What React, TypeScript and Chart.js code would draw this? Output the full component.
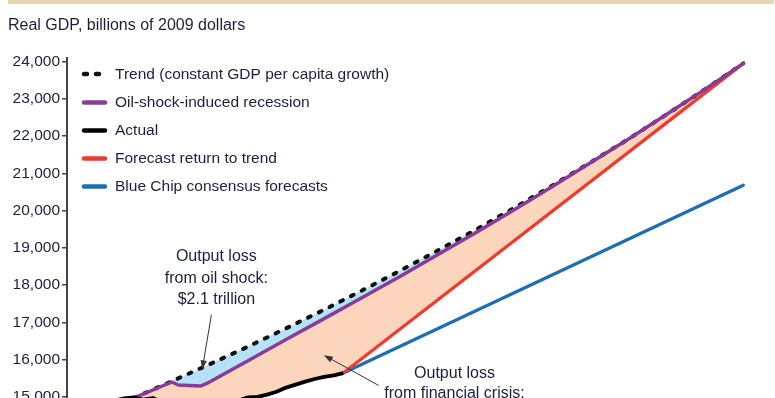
import React, { useEffect, useRef } from 'react';
import { Chart, registerables } from 'chart.js';

Chart.register(...registerables);

const TITLE = 'Real GDP, billions of 2009 dollars';

const legendLabels = [
  'Trend (constant GDP per capita growth)',
  'Oil-shock-induced recession',
  'Actual',
  'Forecast return to trend',
  'Blue Chip consensus forecasts',
];

// Y-axis tick values
const yTickValues = [12000, 13000, 14000, 15000, 16000, 17000, 18000, 19000, 20000, 21000, 22000, 23000, 24000];

// Trend (constant GDP per capita growth)
const trendYears = [2007.75, 2008.75, 2009.75, 2010.75, 2011.75, 2012.75, 2013.75, 2014.75, 2015.75, 2016.75, 2017.75, 2018.75, 2019.75, 2020.75, 2021.75, 2022.75, 2023.75];
const trendValues = [14970, 15420, 15880, 16350, 16840, 17340, 17860, 18390, 18940, 19500, 20080, 20680, 21300, 21930, 22590, 23260, 23950];

// Oil-shock-induced recession
const oilYears = [2007.75, 2008.75, 2008.92, 2009.5, 2009.67, 2010.75, 2011.75, 2012.75, 2013.75, 2014.75, 2015.75, 2016.75, 2017.75, 2018.75, 2019.75, 2020.75, 2021.75, 2022.75, 2023.75];
const oilValues = [14970, 15400, 15320, 15290, 15360, 15970, 16540, 17100, 17670, 18240, 18830, 19420, 20030, 20655, 21290, 21930, 22590, 23260, 23950];

// Actual
const actualYears = [2007.0, 2007.25, 2007.5, 2007.75, 2008.0, 2008.25, 2008.5, 2008.75, 2009.0, 2009.25, 2009.5, 2009.75, 2010.0, 2010.25, 2010.5, 2010.75, 2011.0, 2011.25, 2011.5, 2011.75, 2012.0, 2012.25, 2012.5, 2012.75, 2013.0, 2013.25];
const actualValues = [14830, 14900, 14960, 14990, 14930, 14970, 14850, 14600, 14380, 14350, 14380, 14520, 14600, 14780, 14900, 14990, 15000, 15060, 15140, 15250, 15330, 15410, 15480, 15540, 15580, 15640];

// Forecast return to trend
const forecastYears = [2013.25, 2023.75];
const forecastValues = [15640, 23950];

// Blue Chip consensus forecasts
const blueChipYears = [2013.25, 2023.75];
const blueChipValues = [15640, 20680];

// Annotations, anchored in data units
const noteOil = ['Output loss', 'from oil shock:', '$2.1 trillion'];
const noteOilAnchor = { x: 2009.92, y: [18752, 18182, 17613] };
const noteOilArrow = { from: [2009.79, 17206], to: [2009.55, 15741] };

const noteCrisis = ['Output loss', 'from financial crisis:'];
const noteCrisisAnchor = { x: 2016.17, y: [15633, 15091] };
const noteCrisisArrow = { from: [2014.18, 15307], to: [2012.74, 16121] };

const COLORS = {
  trend: '#111111',
  oil: '#8a3b97',
  actual: '#000000',
  forecast: '#ee3b2f',
  blue: '#1f6db3',
  lightBlue: '#b5e2f6',
  peach: '#fbd6bd',
  text: '#1b1f3b',
  axis: '#444444',
};

const FONT = '"Liberation Sans", Arial, Helvetica, sans-serif';

const pts = (xs: number[], ys: number[]) => xs.map((x, i) => ({ x, y: ys[i] }));

function drawArrow(ctx: CanvasRenderingContext2D, x1: number, y1: number, x2: number, y2: number) {
  const ang = Math.atan2(y2 - y1, x2 - x1);
  const head = 9;
  const hw = 3.2;
  ctx.save();
  ctx.strokeStyle = '#333';
  ctx.fillStyle = '#333';
  ctx.lineWidth = 1;
  ctx.beginPath();
  ctx.moveTo(x1, y1);
  ctx.lineTo(x2 - Math.cos(ang) * head * 0.8, y2 - Math.sin(ang) * head * 0.8);
  ctx.stroke();
  ctx.beginPath();
  ctx.moveTo(x2, y2);
  ctx.lineTo(x2 - Math.cos(ang) * head - Math.sin(ang) * hw, y2 - Math.sin(ang) * head + Math.cos(ang) * hw);
  ctx.lineTo(x2 - Math.cos(ang) * head + Math.sin(ang) * hw, y2 - Math.sin(ang) * head - Math.cos(ang) * hw);
  ctx.closePath();
  ctx.fill();
  ctx.restore();
}

const overlayPlugin = {
  id: 'overlay',
  afterDatasetsDraw(chart: any) {
    const ctx: CanvasRenderingContext2D = chart.ctx;
    const xs = chart.scales.x;
    const ys = chart.scales.y;

    // Legend
    const legendX0 = 82;
    const legendX1 = 107;
    const legendTextX = 115;
    const rowY = [74, 102.5, 130.5, 158.5, 186.5];
    const styles = [
      { color: COLORS.trend, dash: [3, 9] },
      { color: COLORS.oil, dash: [] },
      { color: COLORS.actual, dash: [] },
      { color: COLORS.forecast, dash: [] },
      { color: COLORS.blue, dash: [] },
    ];
    ctx.save();
    legendLabels.forEach((label, i) => {
      const y = rowY[i];
      ctx.beginPath();
      ctx.strokeStyle = styles[i].color;
      ctx.lineWidth = 4.5;
      ctx.lineCap = 'round';
      ctx.setLineDash(styles[i].dash);
      ctx.moveTo(legendX0 + 2, y);
      ctx.lineTo(legendX1 - 2, y);
      ctx.stroke();
      ctx.setLineDash([]);
      ctx.fillStyle = COLORS.text;
      ctx.font = `15.5px ${FONT}`;
      ctx.textAlign = 'left';
      ctx.textBaseline = 'middle';
      ctx.fillText(label, legendTextX, y + 0.5);
    });
    ctx.restore();

    // Annotations
    ctx.save();
    ctx.fillStyle = COLORS.text;
    ctx.font = `16px ${FONT}`;
    ctx.textAlign = 'center';
    ctx.textBaseline = 'middle';
    noteOil.forEach((t, i) => {
      ctx.fillText(t, xs.getPixelForValue(noteOilAnchor.x), ys.getPixelForValue(noteOilAnchor.y[i]));
    });
    noteCrisis.forEach((t, i) => {
      ctx.fillText(t, xs.getPixelForValue(noteCrisisAnchor.x), ys.getPixelForValue(noteCrisisAnchor.y[i]));
    });
    ctx.restore();
    drawArrow(
      ctx,
      xs.getPixelForValue(noteOilArrow.from[0]), ys.getPixelForValue(noteOilArrow.from[1]),
      xs.getPixelForValue(noteOilArrow.to[0]), ys.getPixelForValue(noteOilArrow.to[1])
    );
    drawArrow(
      ctx,
      xs.getPixelForValue(noteCrisisArrow.from[0]), ys.getPixelForValue(noteCrisisArrow.from[1]),
      xs.getPixelForValue(noteCrisisArrow.to[0]), ys.getPixelForValue(noteCrisisArrow.to[1])
    );
  },
};

export default function App() {
  const ref = useRef<HTMLCanvasElement | null>(null);

  useEffect(() => {
    if (!ref.current) return;
    const lowerYears = actualYears.filter((y) => y >= 2007.75).concat(forecastYears.slice(1));
    const lowerValues = actualValues.filter((_, i) => actualYears[i] >= 2007.75).concat(forecastValues.slice(1));

    const chart = new Chart(ref.current, {
      type: 'line',
      data: {
        datasets: [
          {
            label: legendLabels[0],
            data: pts(trendYears, trendValues),
            borderColor: COLORS.trend,
            borderWidth: 4,
            borderDash: [3, 9],
            borderCapStyle: 'round',
            pointRadius: 0,
            fill: { target: 1, above: COLORS.lightBlue, below: COLORS.lightBlue },
            order: 3,
          },
          {
            label: legendLabels[1],
            data: pts(oilYears, oilValues),
            borderColor: COLORS.oil,
            borderWidth: 3.5,
            borderCapStyle: 'round',
            borderJoinStyle: 'round',
            pointRadius: 0,
            fill: { target: 5, above: COLORS.peach, below: COLORS.peach },
            order: 1,
          },
          {
            label: legendLabels[2],
            data: pts(actualYears, actualValues),
            borderColor: COLORS.actual,
            borderWidth: 3.8,
            borderJoinStyle: 'round',
            pointRadius: 0,
            fill: false,
            order: 0,
          },
          {
            label: legendLabels[3],
            data: pts(forecastYears, forecastValues),
            borderColor: COLORS.forecast,
            borderWidth: 3.2,
            pointRadius: 0,
            fill: false,
            order: 2,
          },
          {
            label: legendLabels[4],
            data: pts(blueChipYears, blueChipValues),
            borderColor: COLORS.blue,
            borderWidth: 3.2,
            borderCapStyle: 'round',
            pointRadius: 0,
            fill: false,
            order: 2,
          },
          {
            label: 'lower',
            data: pts(lowerYears, lowerValues),
            borderColor: 'rgba(0,0,0,0)',
            borderWidth: 0,
            pointRadius: 0,
            fill: false,
            order: 6,
          },
        ],
      },
      options: {
        animation: false,
        responsive: false,
        devicePixelRatio: 1,
        events: [],
        layout: { padding: { top: 57.8, left: 8, right: 3.1, bottom: 10 } },
        plugins: {
          legend: { display: false },
          tooltip: { enabled: false },
          title: { display: false },
          filler: { drawTime: 'beforeDatasetsDraw', propagate: false },
        },
        scales: {
          x: {
            type: 'linear',
            display: false,
            min: 2006,
            max: 2024.5,
          },
          y: {
            type: 'linear',
            position: 'left',
            min: 12000,
            max: 24100,
            afterBuildTicks: (scale: any) => {
              scale.ticks = yTickValues.map((v) => ({ value: v }));
            },
            afterFit: (scale: any) => {
              scale.width = 59;
            },
            ticks: {
              autoSkip: false,
              maxTicksLimit: 50,
              padding: 2,
              color: COLORS.text,
              font: { family: FONT, size: 15.5 },
              callback: (v: any) => Number(v).toLocaleString('en-US'),
            },
            grid: {
              display: true,
              drawOnChartArea: false,
              drawTicks: true,
              tickLength: 5,
              color: COLORS.axis,
              lineWidth: 1.5,
            },
            border: { display: true, color: COLORS.axis, width: 2 },
          },
        },
      },
      plugins: [overlayPlugin],
    } as any);
    return () => chart.destroy();
  }, []);

  return (
    <div style={{ position: 'fixed', left: 0, top: 0, width: 775, height: 398, overflow: 'hidden', background: '#fff' }}>
      <canvas ref={ref} width={775} height={520} style={{ position: 'absolute', left: 0, top: 0 }} />
      <div style={{ position: 'absolute', left: 8, top: 0, width: 766, height: 4, background: '#e5d5b2' }} />
      <div
        style={{
          position: 'absolute',
          left: 8,
          top: 17,
          fontFamily: FONT,
          fontSize: 16,
          lineHeight: '16px',
          color: COLORS.text,
          whiteSpace: 'nowrap',
        }}
      >
        {TITLE}
      </div>
    </div>
  );
}
